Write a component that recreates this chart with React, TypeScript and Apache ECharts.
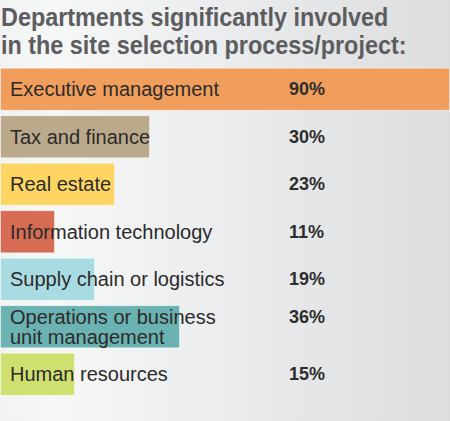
import React, { useEffect, useRef } from "react";
import * as echarts from "echarts";

const categories = [
  "Executive management",
  "Tax and finance",
  "Real estate",
  "Information technology",
  "Supply chain or logistics",
  "Operations or business\nunit management",
  "Human resources",
];
const values = [90, 30, 23, 11, 19, 36, 15];
const barColors = ["#F19E5C", "#BBA98B", "#FED563", "#D66C53", "#A9DCE2", "#6BB2B2", "#CFE070"];
const titleLines = ["Departments significantly involved", "in the site selection process/project:"];

export default function App() {
  const ref = useRef<HTMLDivElement>(null);
  useEffect(() => {
    document.body.style.margin = "0";
    const chart = echarts.init(ref.current!, undefined, { renderer: "svg" });
    chart.setOption({
      animation: false,
      backgroundColor: {
        type: "linear",
        x: 0, y: 0, x2: 1, y2: 0,
        colorStops: [
          { offset: 0, color: "#f1f2f2" },
          { offset: 0.12, color: "#f6f7f7" },
          { offset: 1, color: "#dcdddf" },
        ],
      },
      graphic: titleLines.map((t, i) => ({
        type: "text",
        x: 1,
        y: 17 + i * 28.5,
        scaleX: 0.9,
        style: {
          text: t,
          fontFamily: "Liberation Sans",
          fontWeight: "bold",
          fontSize: 26,
          fill: "#5d5d5f",
          verticalAlign: "middle",
        },
      })),
      grid: { left: 0, right: 0, top: 65.5, bottom: 23, containLabel: false },
      xAxis: { type: "value", min: 0, max: 90, show: false },
      yAxis: [
        { type: "category", data: categories, inverse: true, show: false },
        {
          type: "category",
          data: categories,
          inverse: true,
          position: "right",
          offset: -161,
          z: 10,
          axisLine: { show: false },
          axisTick: { show: false },
          splitLine: { show: false },
          axisLabel: {
            margin: 0,
            align: "left",
            fontFamily: "Liberation Sans",
            fontWeight: "bold",
            fontSize: 18,
            color: "#2e2e2e",
            formatter: (_v: string, idx: number) =>
              values[idx] + "%" + (categories[idx].includes("\n") ? "\n " : ""),
            lineHeight: 20,
          },
        },
      ],
      series: [
        {
          type: "bar",
          yAxisIndex: 0,
          barCategoryGap: "9%",
          data: values.map((v, i) => ({
            value: v,
            itemStyle: { color: barColors[i] },
          })),
          itemStyle: { borderColor: "rgba(255,255,255,0.45)", borderWidth: 1 },
          label: {
            show: true,
            position: "insideLeft",
            distance: 10,
            formatter: (p: any) => categories[p.dataIndex],
            fontFamily: "Liberation Sans",
            fontSize: 20,
            lineHeight: 20,
            color: "#2b2b2b",
          },
        },
      ],
    });
    return () => chart.dispose();
  }, []);
  return <div ref={ref} style={{ width: 450, height: 421 }} />;
}
